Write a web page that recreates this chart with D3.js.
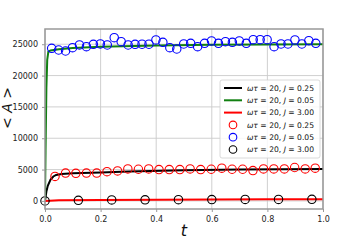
<!DOCTYPE html>
<html>
<head>
<meta charset="utf-8">
<script src="https://cdn.jsdelivr.net/npm/d3@7"></script>
<style>
body { margin: 0; background: #fff; }
svg { font-family: "DejaVu Sans", sans-serif; }
</style>
</head>
<body>
<svg id="chart" width="360" height="240"></svg>
<script>
// line data (t, <A>)
var lineT025 = [0, 0.005, 0.01, 0.02, 0.03, 0.04, 0.06, 0.1, 0.2, 0.3, 0.5, 0.7, 1.0];
var lineA025 = [0, 1500, 2400, 3400, 3900, 4150, 4300, 4400, 4550, 4700, 4900, 5000, 5100];
var lineT005 = [0, 0.002, 0.005, 0.008, 0.012, 0.02, 0.05, 0.1, 0.2, 0.4, 0.6, 0.8, 1.0];
var lineA005 = [0, 8000, 18000, 22500, 23800, 24000, 24200, 24400, 24600, 24800, 24900, 24950, 25000];
var lineT300 = [0, 0.05, 0.2, 0.4, 0.6, 0.8, 1.0];
var lineA300 = [0, 100, 150, 190, 220, 250, 275];

// marker data
var ptT025 = [0.036, 0.074, 0.111, 0.149, 0.186, 0.223, 0.261, 0.298, 0.336, 0.373, 0.41, 0.447, 0.485,
  0.522, 0.56, 0.598, 0.636, 0.673, 0.711, 0.748, 0.786, 0.823, 0.861, 0.898, 0.936, 0.972];
var ptA025 = [3900, 4450, 4400, 4450, 4450, 4670, 4780, 5110, 5050, 5110, 5000, 5000, 5000,
  5110, 5000, 5050, 5220, 5050, 5050, 4840, 5110, 5110, 5110, 5330, 5110, 5220];
var ptT005 = [0.024, 0.049, 0.074, 0.099, 0.124, 0.149, 0.174, 0.199, 0.224, 0.249, 0.274, 0.299, 0.324,
  0.349, 0.374, 0.399, 0.424, 0.449, 0.474, 0.499, 0.524, 0.549, 0.574, 0.599, 0.624, 0.649,
  0.674, 0.699, 0.724, 0.749, 0.774, 0.799, 0.824, 0.849, 0.874, 0.899, 0.924, 0.949, 0.974];
var ptA005 = [24350, 24080, 23920, 24450, 24880, 24610, 24990, 25040, 24880, 26050, 25410, 24880, 24990,
  25000, 25000, 25680, 25310, 24450, 24240, 25040, 25150, 24610, 25150, 25520, 25150, 25410,
  25310, 25520, 25150, 25730, 25730, 25730, 24610, 25040, 25040, 25680, 25040, 25570, 25150];
var ptT300 = [0, 0.12, 0.24, 0.36, 0.48, 0.6, 0.72, 0.84, 0.96];
var ptA300 = [0, 100, 150, 180, 200, 220, 230, 240, 250];

var xTicks = [0, 0.2, 0.4, 0.6, 0.8, 1.0];
var yTicks = [0, 5000, 10000, 15000, 20000, 25000];
var labels = ["0.25", "0.05", "3.00"];

var svg = d3.select("#chart");
var margin = { top: 29, right: 37, bottom: 31, left: 45 };
var width = 360 - margin.left - margin.right;
var height = 240 - margin.top - margin.bottom;

var x = d3.scaleLinear().domain([0, 1]).range([0, width]);
var y = d3.scaleLinear().domain([-1290, 27430]).range([height, 0]);

var g = svg.append("g").attr("transform", "translate(" + margin.left + "," + margin.top + ")");

// grid
g.selectAll(".gx").data(xTicks).enter().append("line")
  .attr("x1", d => x(d)).attr("x2", d => x(d))
  .attr("y1", 0).attr("y2", height)
  .attr("stroke", "#cbcbcb").attr("stroke-width", 0.9);
g.selectAll(".gy").data(yTicks).enter().append("line")
  .attr("x1", 0).attr("x2", width)
  .attr("y1", d => y(d)).attr("y2", d => y(d))
  .attr("stroke", "#cbcbcb").attr("stroke-width", 0.9);

// axes
var xAxis = g.append("g").attr("transform", "translate(0," + height + ")")
  .call(d3.axisBottom(x).tickValues(xTicks).tickFormat(d3.format(".1f")).tickSize(3).tickPadding(4));
var yAxis = g.append("g")
  .call(d3.axisLeft(y).tickValues(yTicks).tickFormat(d3.format("d")).tickSize(3).tickPadding(4));
[xAxis, yAxis].forEach(a => {
  a.select(".domain").remove();
  a.selectAll(".tick line").attr("stroke", "#999").attr("stroke-width", 1);
  a.selectAll(".tick text").attr("font-size", 8).attr("fill", "#222")
    .attr("font-family", "DejaVu Sans");
});

var clip = svg.append("clipPath").attr("id", "clip").append("rect")
  .attr("x", 0).attr("y", 0).attr("width", width).attr("height", height);

var line = d3.line().x(d => x(d[0])).y(d => y(d[1]));
var lines = [
  { t: lineT025, a: lineA025, c: "#000000" },
  { t: lineT005, a: lineA005, c: "#118011" },
  { t: lineT300, a: lineA300, c: "#ff0000" }
];
var lg = g.append("g").attr("clip-path", "url(#clip)");
lines.forEach(s => {
  lg.append("path").datum(s.t.map((t, i) => [t, s.a[i]]))
    .attr("d", line).attr("fill", "none")
    .attr("stroke", s.c).attr("stroke-width", 2);
});

var pts = [
  { t: ptT025, a: ptA025, c: "#ff0000" },
  { t: ptT005, a: ptA005, c: "#0000ff" },
  { t: ptT300, a: ptA300, c: "#000000" }
];
pts.forEach(s => {
  g.selectAll(null).data(s.t.map((t, i) => [t, s.a[i]])).enter().append("circle")
    .attr("cx", d => x(d[0])).attr("cy", d => y(d[1])).attr("r", 4.2)
    .attr("fill", "none").attr("stroke", s.c).attr("stroke-width", 1.1);
});

// frame
g.append("rect").attr("x", 0).attr("y", 0).attr("width", width).attr("height", height)
  .attr("fill", "none").attr("stroke", "#999").attr("stroke-width", 1.5);

// axis labels
svg.append("text").attr("x", margin.left + width / 2).attr("y", 236)
  .attr("text-anchor", "middle").attr("font-size", 16).attr("font-style", "italic")
  .attr("fill", "#111").text("t");
var yl = svg.append("text").attr("transform", "translate(12,108) rotate(-90)")
  .attr("text-anchor", "middle").attr("font-size", 14).attr("fill", "#111");
yl.append("tspan").text("< ");
yl.append("tspan").attr("font-style", "italic").text("A");
yl.append("tspan").text(" >");

// legend
var leg = svg.append("g").attr("transform", "translate(220,80)");
leg.append("rect").attr("x", 0).attr("y", 0).attr("width", 100).attr("height", 78).attr("rx", 2)
  .attr("fill", "#fff").attr("fill-opacity", 0.85).attr("stroke", "#d0d0d0").attr("stroke-width", 0.8);
var entries = lines.map((s, i) => ({ type: "line", c: s.c, j: labels[i] }))
  .concat(pts.map((s, i) => ({ type: "pt", c: s.c, j: labels[i] })));
entries.forEach((e, i) => {
  var ry = 8 + i * 12.3;
  if (e.type === "line") {
    leg.append("line").attr("x1", 4).attr("x2", 22).attr("y1", ry).attr("y2", ry)
      .attr("stroke", e.c).attr("stroke-width", 2);
  } else {
    leg.append("circle").attr("cx", 13).attr("cy", ry).attr("r", 3.8)
      .attr("fill", "none").attr("stroke", e.c).attr("stroke-width", 1.1);
  }
  var tx = leg.append("text").attr("x", 27).attr("y", ry + 2.8).attr("font-size", 7.6).attr("fill", "#111");
  tx.append("tspan").attr("font-style", "italic").text("ωτ");
  tx.append("tspan").text(" = 20, ");
  tx.append("tspan").attr("font-style", "italic").text("J");
  tx.append("tspan").text(" = " + e.j);
});
</script>
</body>
</html>
